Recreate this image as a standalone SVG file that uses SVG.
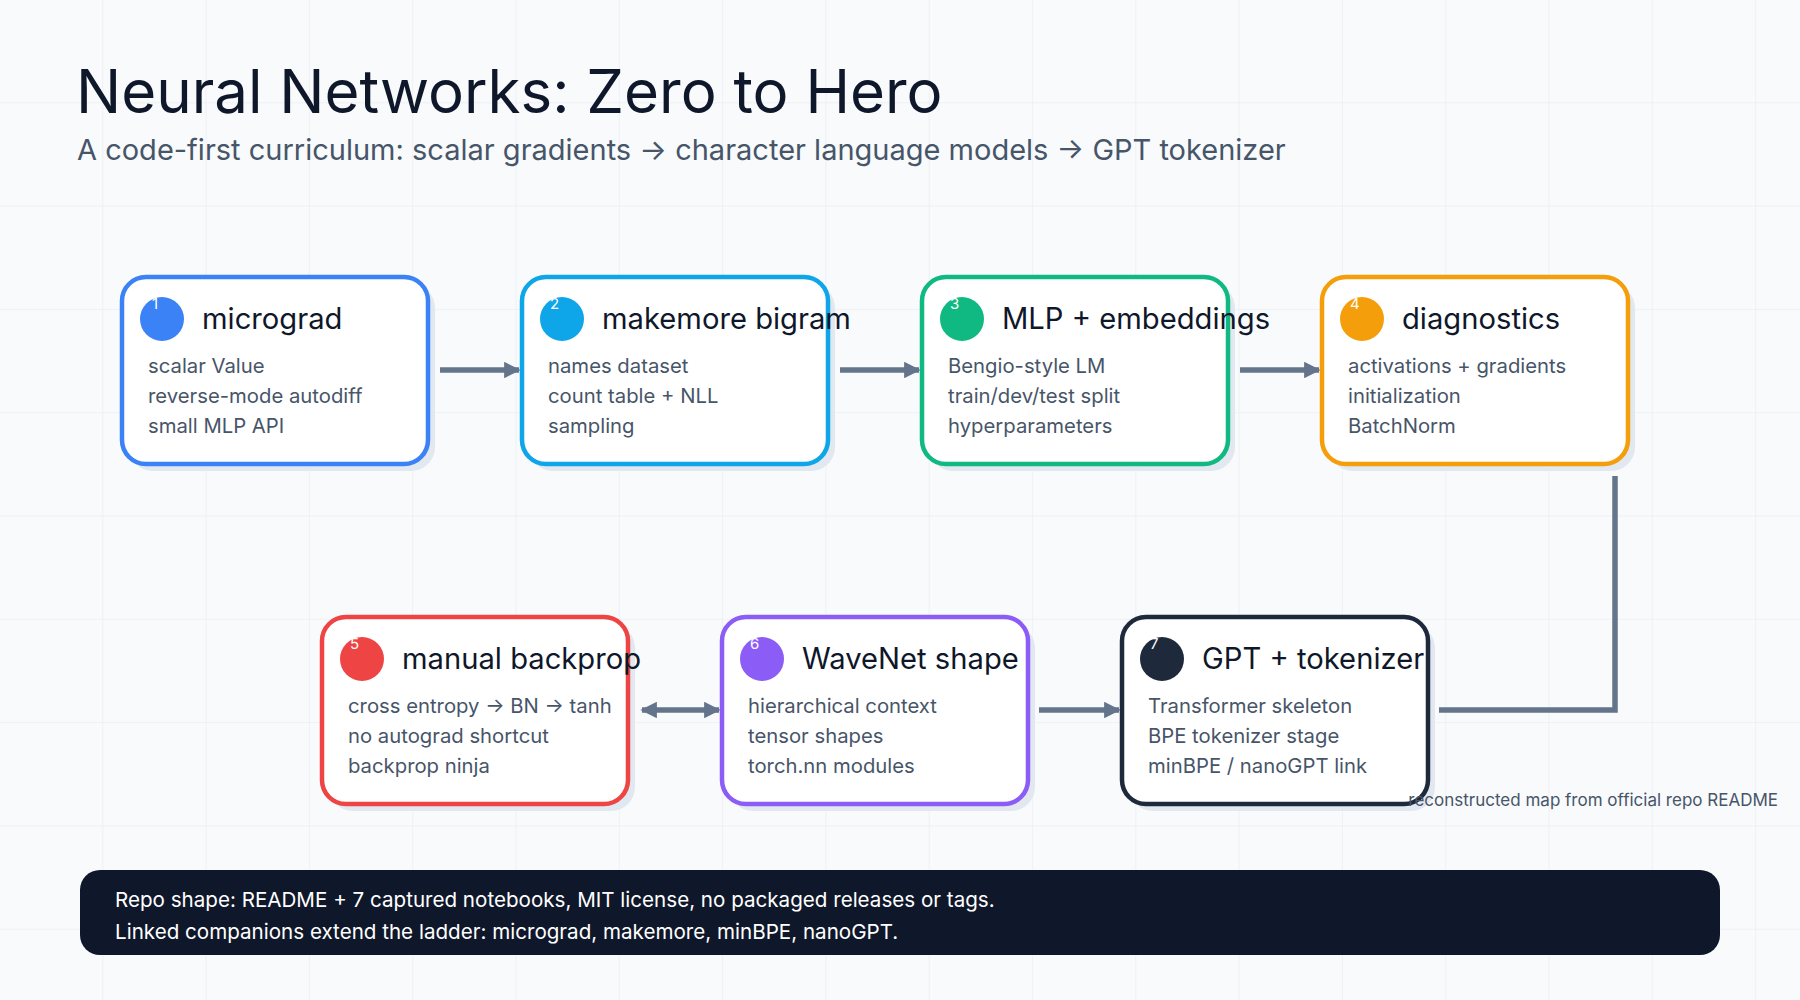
<svg xmlns="http://www.w3.org/2000/svg" width="1800" height="1000" viewBox="0 0 1800 1000">
<defs>
<pattern id="grid" width="103.3" height="103.3" patternUnits="userSpaceOnUse"><path d="M103.3 0V103.3M0 103.3H103.3" fill="none" stroke="#e5eaf0" stroke-width="1"/></pattern>
<marker id="ah" viewBox="0 0 10 10" refX="9" refY="5" markerWidth="3" markerHeight="3" orient="auto-start-reverse"><path d="M0 0L10 5L0 10z" fill="#64748b"/></marker>
</defs>
<style>
text{font-family:Inter,"Liberation Sans",Arial,sans-serif}
.card{fill:#fff;stroke-width:4.5}
.sh{fill:#e2e8f0}
.t{font-size:29.2px;fill:#0f172a}
.b{font-size:20.3px;fill:#475569}
.n{font-size:15px;fill:#fff}
.c{fill:none;stroke:#64748b;stroke-width:5.5}
</style>
<rect width="1800" height="1000" fill="#f8fafc"/>
<rect width="1800" height="1000" fill="url(#grid)"/>
<text x="76" y="113" font-size="60" fill="#0f172a">Neural Networks: Zero to Hero</text>
<text x="77" y="160" font-size="29" fill="#475569">A code-first curriculum: scalar gradients → character language models → GPT tokenizer</text>
<g id="connectors">
<path class="c" d="M440 370H519" marker-end="url(#ah)"/>
<path class="c" d="M840 370H919" marker-end="url(#ah)"/>
<path class="c" d="M1240 370H1319" marker-end="url(#ah)"/>
<path class="c" d="M1615 476V710H1439"/>
<path class="c" d="M1039 710H1119" marker-end="url(#ah)"/>
<path class="c" d="M642 710H719" marker-start="url(#ah)" marker-end="url(#ah)"/>
</g>
<g id="n1"><rect class="sh" x="129" y="284" width="306" height="187" rx="24"/><rect class="card" stroke="#3b82f6" x="122" y="277" width="306" height="187" rx="24"/><circle cx="162" cy="319" r="22" fill="#3b82f6"/><text class="n" x="152" y="309">1</text><text class="t" x="202" y="329">micrograd</text><text class="b" x="148" y="373">scalar Value</text><text class="b" x="148" y="403">reverse-mode autodiff</text><text class="b" x="148" y="433">small MLP API</text></g>
<g id="n2"><rect class="sh" x="529" y="284" width="306" height="187" rx="24"/><rect class="card" stroke="#0ea5e9" x="522" y="277" width="306" height="187" rx="24"/><circle cx="562" cy="319" r="22" fill="#0ea5e9"/><text class="n" x="550" y="309">2</text><text class="t" x="602" y="329">makemore bigram</text><text class="b" x="548" y="373">names dataset</text><text class="b" x="548" y="403">count table + NLL</text><text class="b" x="548" y="433">sampling</text></g>
<g id="n3"><rect class="sh" x="929" y="284" width="306" height="187" rx="24"/><rect class="card" stroke="#10b981" x="922" y="277" width="306" height="187" rx="24"/><circle cx="962" cy="319" r="22" fill="#10b981"/><text class="n" x="950" y="309">3</text><text class="t" x="1002" y="329">MLP + embeddings</text><text class="b" x="948" y="373">Bengio-style LM</text><text class="b" x="948" y="403">train/dev/test split</text><text class="b" x="948" y="433">hyperparameters</text></g>
<g id="n4"><rect class="sh" x="1329" y="284" width="306" height="187" rx="24"/><rect class="card" stroke="#f59e0b" x="1322" y="277" width="306" height="187" rx="24"/><circle cx="1362" cy="319" r="22" fill="#f59e0b"/><text class="n" x="1350" y="309">4</text><text class="t" x="1402" y="329">diagnostics</text><text class="b" x="1348" y="373">activations + gradients</text><text class="b" x="1348" y="403">initialization</text><text class="b" x="1348" y="433">BatchNorm</text></g>
<g id="n5"><rect class="sh" x="329" y="624" width="306" height="187" rx="24"/><rect class="card" stroke="#ef4444" x="322" y="617" width="306" height="187" rx="24"/><circle cx="362" cy="659" r="22" fill="#ef4444"/><text class="n" x="350" y="649">5</text><text class="t" x="402" y="669">manual backprop</text><text class="b" x="348" y="713">cross entropy → BN → tanh</text><text class="b" x="348" y="743">no autograd shortcut</text><text class="b" x="348" y="773">backprop ninja</text></g>
<g id="n6"><rect class="sh" x="729" y="624" width="306" height="187" rx="24"/><rect class="card" stroke="#8b5cf6" x="722" y="617" width="306" height="187" rx="24"/><circle cx="762" cy="659" r="22" fill="#8b5cf6"/><text class="n" x="750" y="649">6</text><text class="t" x="802" y="669">WaveNet shape</text><text class="b" x="748" y="713">hierarchical context</text><text class="b" x="748" y="743">tensor shapes</text><text class="b" x="748" y="773">torch.nn modules</text></g>
<g id="n7"><rect class="sh" x="1129" y="624" width="306" height="187" rx="24"/><rect class="card" stroke="#1e293b" x="1122" y="617" width="306" height="187" rx="24"/><circle cx="1162" cy="659" r="22" fill="#1e293b"/><text class="n" x="1150" y="649">7</text><text class="t" x="1202" y="669">GPT + tokenizer</text><text class="b" x="1148" y="713">Transformer skeleton</text><text class="b" x="1148" y="743">BPE tokenizer stage</text><text class="b" x="1148" y="773">minBPE / nanoGPT link</text></g>
<text x="1778" y="806" font-size="17" fill="#475569" text-anchor="end">reconstructed map from official repo README</text>
<g id="footer"><rect x="80" y="870" width="1640" height="85" rx="20" fill="#0f172a"/><text x="115" y="907" font-size="20.6" fill="#fff">Repo shape: README + 7 captured notebooks, MIT license, no packaged releases or tags.</text><text x="115" y="939" font-size="20.6" fill="#fff">Linked companions extend the ladder: micrograd, makemore, minBPE, nanoGPT.</text></g>
</svg>
